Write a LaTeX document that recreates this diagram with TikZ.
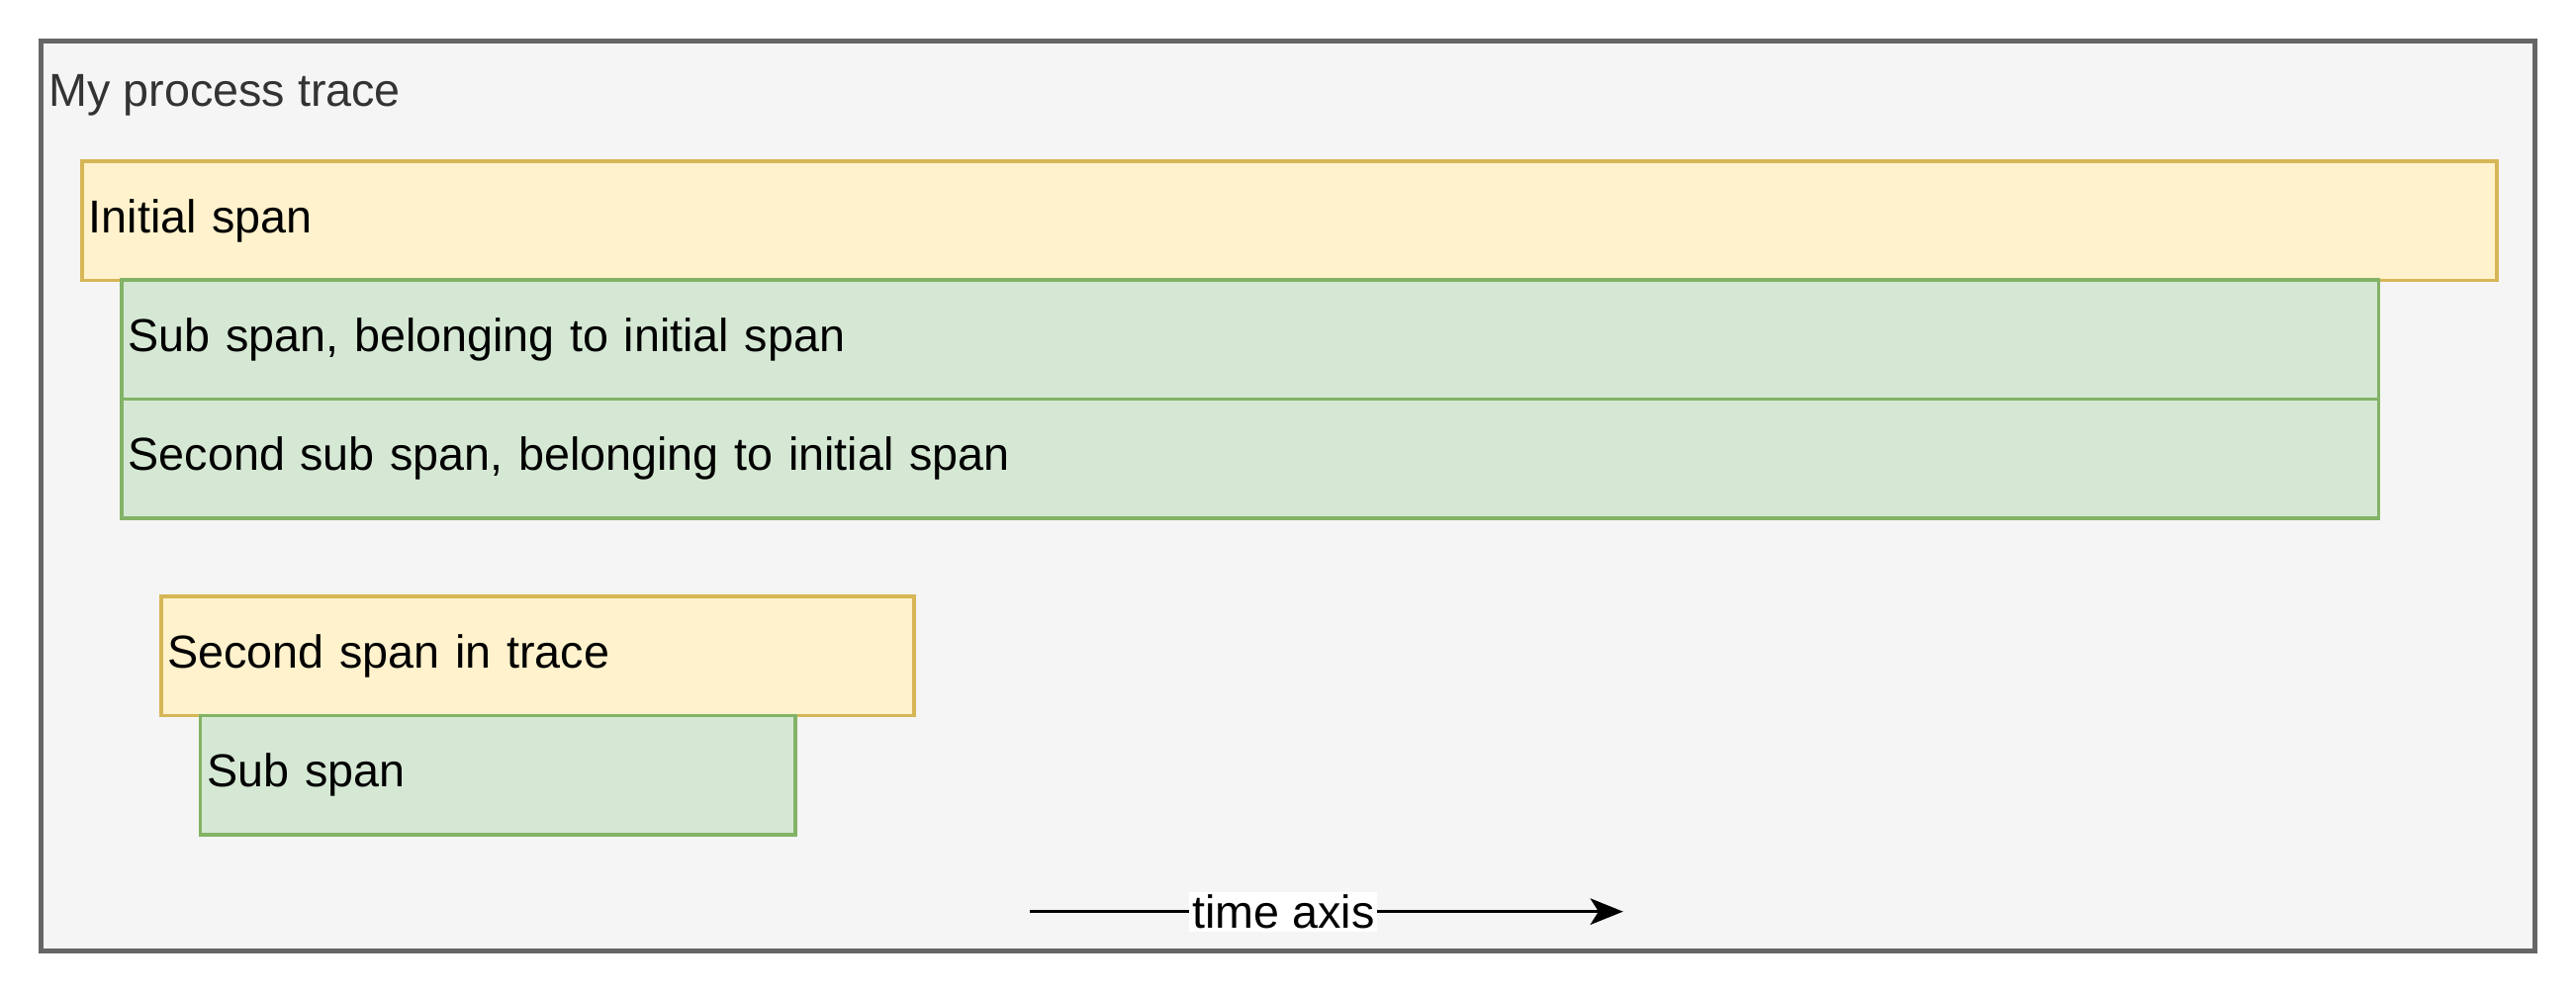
\documentclass[tikz,border=0pt]{standalone}
\usepackage{fontspec}
\setmainfont{Liberation Sans}
\usetikzlibrary{arrows.meta, positioning}
\definecolor{traceFill}{HTML}{F5F5F5}
\definecolor{traceLine}{HTML}{666666}
\definecolor{traceText}{HTML}{333333}
\definecolor{spanFill}{HTML}{FFF2CC}
\definecolor{spanLine}{HTML}{D6B656}
\definecolor{subFill}{HTML}{D5E8D4}
\definecolor{subLine}{HTML}{82B366}
\tikzset{
  box/.style={
    rectangle,
    anchor=north west,
    line width=0.6pt,
    inner xsep=0.04cm,
    inner ysep=0pt,
    minimum height=0.725cm,
    align=left,
    font=\fontsize{8}{9.6}\selectfont
  },
  span/.style={box, draw=spanLine, fill=spanFill, text width=#1},
  subspan/.style={box, draw=subLine, fill=subFill, text width=#1},
  arrow/.style={line width=0.5pt, -{Stealth[length=0.2cm, width=0.16cm, inset=0.05cm]}}
}
\begin{document}
\begin{tikzpicture}[x=0.01cm, y=-0.01cm]
  \useasboundingbox (0,0) rectangle (1568,604);

  \draw [fill=traceFill, draw=traceLine, line width=0.7pt] (25,25) rectangle (1543,579);
  \node (title) [anchor=west, inner sep=0pt, text=traceText, font=\fontsize{8}{9.6}\selectfont] at (29,58) {My process trace};

  \node (initial) [span=14.61cm] at (49,97) {Initial span};
  \node (sub) [subspan=13.65cm] at (73,169.5) {Sub span, belonging to initial span};
  \node (second sub) [subspan=13.65cm] at (73,242) {Second sub span, belonging to initial span};

  \node (second) [span=4.5cm] at (97,362) {Second span in trace};
  \node (second child) [subspan=3.54cm] at (121,434.5) {Sub span};

  \coordinate (t0) at (627,555);
  \coordinate (t1) at (988,555);
  \draw [arrow] (t0) -- node (axis) [pos=0.427, fill=white, inner sep=0.5pt, font=\fontsize{8}{9.6}\selectfont] {time axis} (t1);

\end{tikzpicture}
\end{document}
